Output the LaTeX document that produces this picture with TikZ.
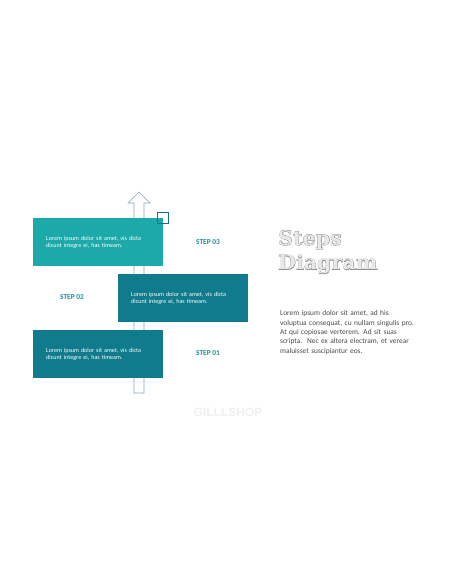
\documentclass[tikz,border=0pt]{standalone}
\usepackage{graphicx}
\usepackage{fontspec}
\setmainfont{Carlito}
\newfontfamily\slab{DejaVu Serif Bold}
\newfontfamily\slabstroke[FakeBold=2.5]{DejaVu Serif Bold}
\newfontfamily\wm{Liberation Sans}
\definecolor{tealA}{HTML}{1BA9AA}
\definecolor{tealB}{HTML}{0F7B8C}
\definecolor{steptxt}{HTML}{1C8FA0}
\definecolor{arrowc}{HTML}{86A9B8}
\definecolor{sqc}{HTML}{146F80}
\definecolor{bodytxt}{HTML}{4A4A4A}
\definecolor{titlefill}{HTML}{E8E8E8}
\definecolor{titlestroke}{HTML}{808080}
\tikzset{
  box/.style={anchor=north west, minimum width=130pt, minimum height=48pt,
    inner xsep=13pt, text width=104pt, align=left, text=white,
    font=\fontsize{6.1}{7}\selectfont},
  steplabel/.style={text=steptxt, font=\bfseries\fontsize{7.4}{8}\selectfont},
  title/.style={anchor=base west, inner sep=0pt, font=\slab\fontsize{20}{24}\selectfont, text=titlefill},
  titleo/.style={anchor=base west, inner sep=0pt, font=\slabstroke\fontsize{20}{24}\selectfont, text=titlestroke},
}
\newcommand{\widetitle}[1]{\scalebox{1.03}[1]{#1}}
\begin{document}
\begin{tikzpicture}[x=1pt,y=-1pt]
\useasboundingbox (0,0) rectangle (456,586);
\fill[white] (0,0) rectangle (456,586);
% arrow
\draw[arrowc, line width=0.6pt, line join=miter]
  (134,393) -- (134,203) -- (128,203) -- (139,192) -- (150,203) -- (144,203) -- (144,393) -- cycle;
% boxes
\node[box, fill=tealA] (b3) at (33,218) {Lorem ipsum dolor sit amet, vis dicta\\dicunt integre ei, has timeam.};
\node[box, fill=tealB] (b2) at (118,274) {Lorem ipsum dolor sit amet, vis dicta\\dicunt integre ei, has timeam.};
\node[box, fill=tealB] (b1) at (33,330) {Lorem ipsum dolor sit amet, vis dicta\\dicunt integre ei, has timeam.};
% small square
\node[draw=sqc, line width=0.8pt, minimum size=11pt, inner sep=0pt, anchor=north west] (sq) at (157,212) {};
% step labels
\node[steplabel] (s3) at (208,242) {STEP 03};
\node[steplabel] (s2) at (72,297) {STEP 02};
\node[steplabel] (s1) at (208,353) {STEP 01};
% title
\node[titleo] (t1o) at (278,245) {\widetitle{Steps}};
\node[titleo] (t2o) at (278,269.5) {\widetitle{Diagram}};
\node[title] (t1) at (278,245) {\widetitle{Steps}};
\node[title] (t2) at (278,269.5) {\widetitle{Diagram}};
% paragraph
\node[anchor=north west, inner sep=0pt, text width=160pt, align=left, text=bodytxt,
  font=\fontsize{7.4}{9.3}\selectfont] (para) at (280,310.5)
  {Lorem ipsum dolor sit amet, ad his\\voluptua consequat, cu nullam singulis pro.\\At qui copiosae verterem. Ad sit suas\\scripta.\ \ Nec ex altera electram, et verear\\maluisset suscipiantur eos.};
% watermark
\node[text=black!6, font=\wm\bfseries\fontsize{12}{14}\selectfont] (wm) at (228,412) {GILLLSHOP};
\end{tikzpicture}
\end{document}
